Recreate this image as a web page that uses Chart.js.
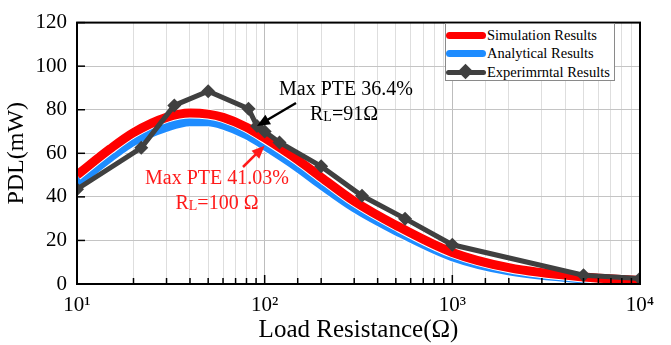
<!DOCTYPE html>
<html lang="en">
<head>
    <meta charset="UTF-8">
    <title>PDL vs Load Resistance</title>
    <script src="https://cdn.jsdelivr.net/npm/chart.js"></script>
    <style>
        * {
            margin: 0;
            padding: 0;
            box-sizing: border-box;
        }

        body {
            background: #fff;
        }

        .wrap {
            position: relative;
            width: 671px;
            height: 345px;
        }

        .legend {
            position: absolute;
            left: 445px;
            top: 23px;
            width: 170px;
            height: 58px;
            border: 1px solid #8a8a8a;
            background: #fff;
            padding-top: 2px;
            font-family: "Liberation Serif", "DejaVu Serif", serif;
        }

        .legend-row {
            display: flex;
            align-items: center;
            height: 18.5px;
            font-size: 14.5px;
            color: #000;
            white-space: nowrap;
        }

        .swatch {
            position: relative;
            flex: none;
            width: 40px;
            height: 7px;
            border-radius: 4px;
            margin-right: 1px;
        }

        .diamond {
            position: absolute;
            left: 14px;
            top: -3.5px;
            width: 11px;
            height: 11px;
            background: #404040;
            transform: rotate(45deg);
        }
    </style>
</head>
<body>
    <div class="wrap">
        <canvas id="myChart" width="671" height="345"></canvas>
        <div class="legend">
            <div class="legend-row"><span class="swatch" style="background:#ff0000"></span>Simulation Results</div>
            <div class="legend-row"><span class="swatch" style="background:#1e8cff"></span>Analytical Results</div>
            <div class="legend-row"><span class="swatch" style="background:#404040;height:5px"><span class="diamond"></span></span>Experimrntal Results</div>
        </div>
    </div>

    <script>
        // load resistance (ohm) for the simulated / analytical curves
        const resistance = [10, 15, 20, 30, 40, 50, 60, 80, 100, 150, 200, 300, 500, 1000, 2000, 5000, 10000];
        const simulationPdl = [50, 62, 69.5, 76.5, 78.5, 78, 76.5, 72, 67, 57, 49, 38, 27, 14.5, 7.5, 3.2, 1.6];
        const analyticalPdl = [46, 58, 65.5, 72, 74.5, 74.5, 73, 68.5, 63.5, 53.5, 45.5, 35, 24.5, 12.5, 6, 2.3, 1.1];

        // measured points
        const expResistance = [10, 22, 33, 50, 82, 91, 100, 120, 200, 330, 560, 1000, 5000, 10000];
        const expPdl = [43.5, 62.5, 82, 88.5, 80.5, 72.5, 70, 65, 54, 40.5, 30, 18, 4, 2.5];

        const yTicks = [0, 20, 40, 60, 80, 100, 120];
        const superscripts = { 1: '\u00b9', 2: '\u00b2', 3: '\u00b3', 4: '\u2074' };

        const serif = "'Liberation Serif', 'Times New Roman', serif";

        function toPoints(xs, ys) {
            return xs.map((x, i) => ({ x: x, y: ys[i] }));
        }

        function isDecade(v) {
            const l = Math.log10(v);
            return Math.abs(l - Math.round(l)) < 1e-9;
        }

        // white halo under the thick coloured curves
        const haloPlugin = {
            id: 'halo',
            beforeDatasetDraw(chart, args) {
                if (args.index > 1) return;
                const line = args.meta.dataset;
                const old = { c: line.options.borderColor, w: line.options.borderWidth };
                line.options.borderColor = '#ffffff';
                line.options.borderWidth = old.w + 2;
                line.draw(chart.ctx, chart.chartArea);
                line.options.borderColor = old.c;
                line.options.borderWidth = old.w;
            }
        };

        function arrow(ctx, x0, y0, x1, y1, color) {
            const ang = Math.atan2(y1 - y0, x1 - x0);
            const head = 13;
            ctx.save();
            ctx.strokeStyle = color;
            ctx.fillStyle = color;
            ctx.lineWidth = 2.5;
            ctx.beginPath();
            ctx.moveTo(x0, y0);
            ctx.lineTo(x1 - Math.cos(ang) * head * 0.8, y1 - Math.sin(ang) * head * 0.8);
            ctx.stroke();
            ctx.beginPath();
            ctx.moveTo(x1, y1);
            ctx.lineTo(x1 - head * Math.cos(ang) + 5.5 * Math.sin(ang), y1 - head * Math.sin(ang) - 5.5 * Math.cos(ang));
            ctx.lineTo(x1 - head * Math.cos(ang) - 5.5 * Math.sin(ang), y1 - head * Math.sin(ang) + 5.5 * Math.cos(ang));
            ctx.closePath();
            ctx.fill();
            ctx.restore();
        }

        // "R" with small-cap "L" then the rest
        function rlText(ctx, text, x, y, color, align) {
            ctx.save();
            ctx.fillStyle = color;
            ctx.textBaseline = 'middle';
            ctx.font = '20px ' + serif;
            const wR = ctx.measureText('R').width;
            const wRest = ctx.measureText(text).width;
            ctx.font = '14px ' + serif;
            const wL = ctx.measureText('L').width;
            let left = x;
            if (align === 'center') left = x - (wR + wL + wRest) / 2;
            ctx.font = '20px ' + serif;
            ctx.textAlign = 'left';
            ctx.fillText('R', left, y);
            ctx.font = '14px ' + serif;
            ctx.fillText('L', left + wR, y + 2);
            ctx.font = '20px ' + serif;
            ctx.fillText(text, left + wR + wL, y);
            ctx.restore();
        }

        const decorPlugin = {
            id: 'decor',
            afterDatasetsDraw(chart) {
                const { ctx, chartArea: a, scales: { x, y } } = chart;
                ctx.save();

                // inward tick marks
                ctx.strokeStyle = '#000';
                ctx.lineWidth = 1.5;
                x.ticks.forEach(t => {
                    const px = x.getPixelForValue(t.value);
                    const len = isDecade(t.value) ? 9 : 6;
                    ctx.beginPath();
                    ctx.moveTo(px, a.bottom);
                    ctx.lineTo(px, a.bottom - len);
                    ctx.stroke();
                });
                y.ticks.forEach(t => {
                    const py = y.getPixelForValue(t.value);
                    ctx.beginPath();
                    ctx.moveTo(a.left, py);
                    ctx.lineTo(a.left + 8, py);
                    ctx.stroke();
                });

                // frame
                ctx.lineWidth = 2;
                ctx.strokeRect(a.left, a.top, a.right - a.left, a.bottom - a.top);
                ctx.restore();

                // annotations
                ctx.save();
                ctx.textBaseline = 'middle';
                ctx.font = '20px ' + serif;
                ctx.fillStyle = '#000';
                ctx.textAlign = 'left';
                ctx.fillText('Max PTE 36.4%', 279, 90);
                rlText(ctx, '=91\u03a9', 310, 115, '#000', 'left');
                arrow(ctx, 296, 103, x.getPixelForValue(91), y.getPixelForValue(72.5), '#000');

                ctx.fillStyle = '#ff1a1a';
                ctx.textAlign = 'center';
                ctx.fillText('Max PTE 41.03%', 217, 179);
                rlText(ctx, '=100 \u03a9', 217, 204, '#ff1a1a', 'center');
                arrow(ctx, 243, 167, x.getPixelForValue(100), y.getPixelForValue(63.5), '#ff1a1a');
                ctx.restore();
            }
        };

        const config = {
            type: 'line',
            data: {
                datasets: [
                    {
                        label: 'Simulation Results',
                        data: toPoints(resistance, simulationPdl),
                        borderColor: '#ff0000',
                        borderWidth: 9,
                        pointRadius: 0,
                        cubicInterpolationMode: 'monotone',
                        order: 2
                    },
                    {
                        label: 'Analytical Results',
                        data: toPoints(resistance, analyticalPdl),
                        borderColor: '#1e8cff',
                        borderWidth: 9,
                        pointRadius: 0,
                        cubicInterpolationMode: 'monotone',
                        order: 3
                    },
                    {
                        label: 'Experimrntal Results',
                        data: toPoints(expResistance, expPdl),
                        borderColor: '#404040',
                        backgroundColor: '#404040',
                        borderWidth: 5,
                        pointStyle: 'rectRot',
                        pointRadius: 7,
                        pointBorderWidth: 0,
                        tension: 0,
                        order: 1
                    }
                ]
            },
            plugins: [haloPlugin, decorPlugin],
            options: {
                responsive: false,
                animation: false,
                layout: {
                    padding: { left: 0, right: 31, top: 12, bottom: 0 }
                },
                plugins: {
                    legend: { display: false },
                    tooltip: { enabled: false }
                },
                scales: {
                    x: {
                        type: 'logarithmic',
                        min: 10,
                        max: 10000,
                        afterFit(scale) { scale.height = 61; },
                        grid: {
                            drawTicks: false,
                            lineWidth: 1,
                            color: ctx => (ctx.tick && isDecade(ctx.tick.value)) ? '#bdbdbd' : '#dedede'
                        },
                        border: { display: false },
                        ticks: {
                            autoSkip: false,
                            maxRotation: 0,
                            padding: 9,
                            color: '#000',
                            font: { family: serif, size: 21 },
                            callback: v => isDecade(v) ? '10' + superscripts[Math.round(Math.log10(v))] : ''
                        },
                        title: {
                            display: true,
                            text: 'Load Resistance(\u03a9)',
                            color: '#000',
                            font: { family: serif, size: 25 },
                            padding: { top: 0, bottom: 0 }
                        }
                    },
                    y: {
                        min: 0,
                        max: 120,
                        afterFit(scale) { scale.width = 77; },
                        afterBuildTicks(scale) { scale.ticks = yTicks.map(v => ({ value: v })); },
                        grid: {
                            drawTicks: false,
                            color: '#c4c4c4'
                        },
                        border: { display: false },
                        ticks: {
                            padding: 10,
                            color: '#000',
                            font: { family: serif, size: 21 }
                        },
                        title: {
                            display: true,
                            text: 'PDL(mW)',
                            color: '#000',
                            font: { family: serif, size: 24 },
                            padding: { top: 2, bottom: 0 }
                        }
                    }
                }
            }
        };

        new Chart(document.getElementById('myChart'), config);
    </script>
</body>
</html>
